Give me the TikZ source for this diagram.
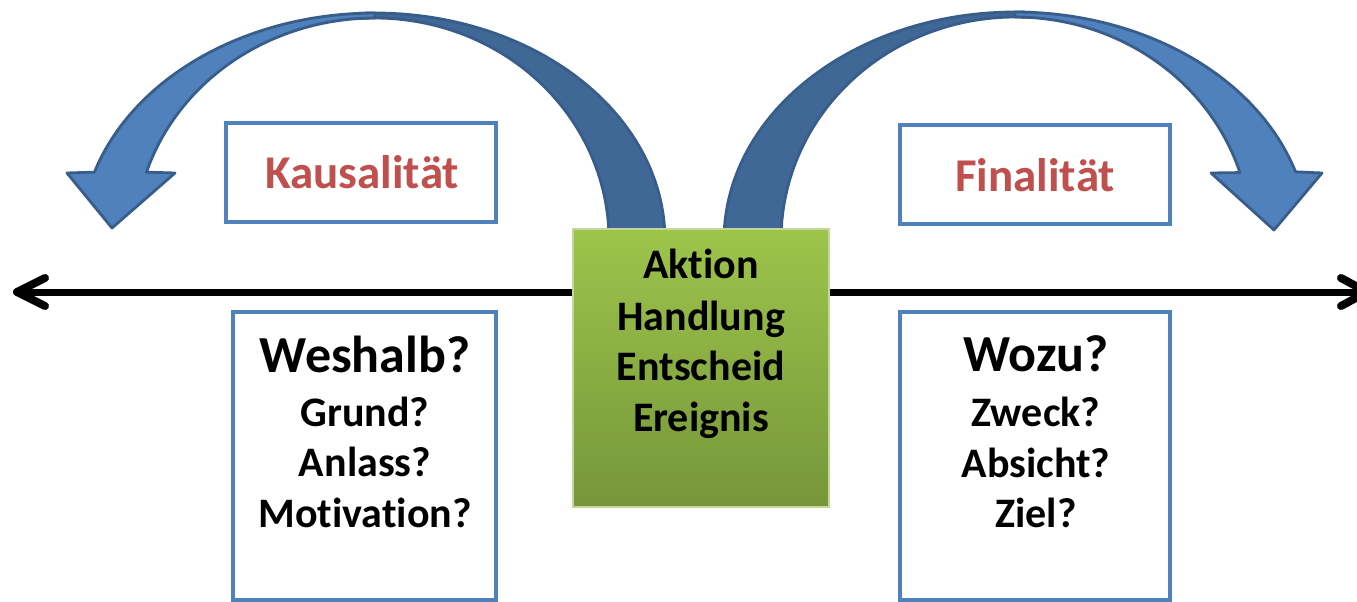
\documentclass[tikz,border=0pt]{standalone}
\usepackage{fontspec}
\setmainfont{Carlito}[Ligatures={NoCommon,NoContextual},RawFeature={-liga;-clig;-calt;-dlig}]
\usetikzlibrary{calc}
\newcommand{\nolig}{\kern0pt }
\definecolor{bluebox}{HTML}{4F81BD}
\definecolor{blueline}{HTML}{385D8A}
\definecolor{bluedark}{HTML}{406896}
\definecolor{redtxt}{HTML}{C0504D}
\definecolor{greentop}{HTML}{9DC44B}
\definecolor{greenbot}{HTML}{76963A}
\definecolor{greenedge}{HTML}{C3D69B}
\begin{document}
\begin{tikzpicture}[x=1pt,y=-1pt,
  box/.style={draw=bluebox, line width=4.5pt, fill=white, inner sep=0pt},
  big/.style={font=\fontsize{52}{62}\selectfont\bfseries, anchor=base, inner sep=0pt},
  mid/.style={font=\fontsize{42}{50}\selectfont\bfseries, anchor=base, inner sep=0pt},
  ttl/.style={font=\fontsize{47}{56}\selectfont\bfseries, text=redtxt, anchor=base, inner sep=0pt},
  band/.style={draw=blueline, line width=2.8pt, line join=round},
  axis/.style={line width=7pt, line cap=round, line join=round},
  barbline/.style={line width=8pt, line cap=round, line join=round},
]
\useasboundingbox (0,0) rectangle (1357,602);
\fill[white] (0,0) rectangle (1357,602);

% time axis with open arrowheads at both ends
\coordinate (axL) at (17,292);
\coordinate (axR) at (1367,292);
\draw[axis] (axL) -- (axR);
\draw[barbline] ($(axL)+(28,-14)$) -- (axL) -- ($(axL)+(28,14)$);
\draw[barbline] ($(axR)+(-26,-14)$) -- (axR) -- ($(axR)+(-26,14)$);

% boxes
\node[box, minimum width=270pt, minimum height=99pt] (kbox) at (361,172.5) {};
\node[box, minimum width=270pt, minimum height=99pt] (fbox) at (1035,174.5) {};
\node[box, minimum width=263pt, minimum height=288pt] (wbox) at (364.5,456) {};
\node[box, minimum width=270pt, minimum height=288pt] (zbox) at (1035,456) {};

\node[ttl] (ktxt) at (362,188) {Kausalit\nolig ät};
\node[ttl] (ftxt) at (1035,191) {Finalit\nolig ät};

\node[big] (w1) at (365,372) {Weshalb?};
\node[mid] (w2) at (365,426) {Grund?};
\node[mid] (w3) at (365,476) {Anlass?};
\node[mid] (w4) at (365,527) {Motivat\nolig ion?};

\node[big] (z1) at (1036,371) {Wozu?};
\node[mid] (z2) at (1036,426) {Zweck?};
\node[mid] (z3) at (1036,477) {Absicht?};
\node[mid] (z4) at (1036,527) {Ziel?};

% left curved arrow: back band
\path[band, fill=bluedark]
  plot[domain=-3:93, samples=60] ({375+290*cos(\x)}, {240-227*sin(\x)})
  -- plot[domain=93:-3, samples=60] ({375+234*cos(\x)}, {240-222*sin(\x)}) -- cycle;
% left curved arrow: front band and head
\path[band, fill=bluebox]
  plot[domain=90:162.6, samples=60] ({375+294*cos(\x)}, {240-227*sin(\x)})
  -- (67,173) -- (112,228) -- (175,173)
  -- plot[domain=162.2:90, samples=60] ({375+240*cos(\x)}, {240-222*sin(\x)}) -- cycle;

% right curved arrow: back band
\path[band, fill=bluedark]
  plot[domain=183:87, samples=60] ({1015+291*cos(\x)}, {240-228*sin(\x)})
  -- plot[domain=87:183, samples=60] ({1015+234*cos(\x)}, {240-223*sin(\x)}) -- cycle;
% right curved arrow: front band and head
\path[band, fill=bluebox]
  plot[domain=90:17.4, samples=60] ({1015+294*cos(\x)}, {240-228*sin(\x)})
  -- (1322,173) -- (1274,230) -- (1211,173)
  -- plot[domain=17.6:90, samples=60] ({1015+236*cos(\x)}, {240-223*sin(\x)}) -- cycle;

% central green box
\node[draw=greenedge, line width=2pt, top color=greentop, bottom color=greenbot,
      minimum width=256pt, minimum height=278pt, inner sep=0pt] (act) at (701,368) {};
\node[mid] (a1) at (701,278) {Akt\nolig ion};
\node[mid] (a2) at (701,330) {Handlung};
\node[mid] (a3) at (701,380) {Entscheid};
\node[mid] (a4) at (701,431) {Ereignis};
\end{tikzpicture}
\end{document}
